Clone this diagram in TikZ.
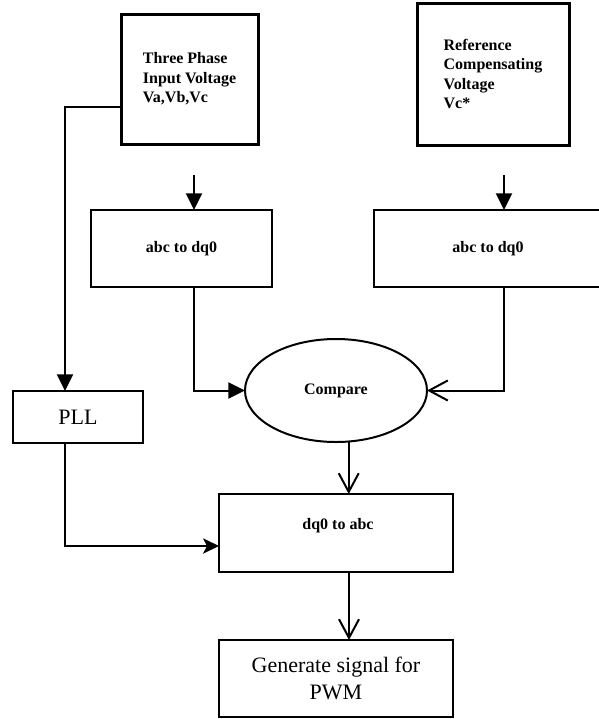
\documentclass[tikz,border=0pt]{standalone}
\usepackage{fontspec}
\setmainfont{Liberation Serif}
\usetikzlibrary{arrows.meta,shapes.geometric,calc}
\begin{document}
\begin{tikzpicture}[x=0.75pt,y=-0.75pt,
  every node/.style={inner sep=0pt, outer sep=0pt},
  line/.style={line width=1.5pt, black},
  topbox/.style={draw, line width=2.25pt, rectangle, align=left,
    font=\fontsize{12pt}{14.6pt}\selectfont\bfseries},
  box/.style={draw, line width=1.5pt, rectangle},
  boldtext/.style={font=\fontsize{12pt}{14.6pt}\selectfont\bfseries},
  plaintext/.style={font=\fontsize{16.5pt}{20pt}\selectfont, align=center},
  filledtip/.style={-{Triangle[length=12.5pt,width=12pt]}},
  stealthtip/.style={-{Stealth[length=12pt,width=11.5pt,inset=3pt]}},
  openv/.style={-{Straight Barb[length=14pt,width=15pt]}},
]
\useasboundingbox (0,0) rectangle (599,719);

% nodes
\node[topbox, minimum width=102.75pt, minimum height=97.5pt] (tp) at (189.5,79)
  {Three Phase\\Input Voltage\\Va,Vb,Vc};
\node[topbox, minimum width=114pt, minimum height=106.5pt] (ref) at (493,74)
  {Reference\\Compensating\\Voltage\\Vc*};
\node[box, boldtext, minimum width=135.75pt, minimum height=57.75pt] (abcL) at (181.5,248.5) {abc to dq0};
\node[box, boldtext, minimum width=171pt, minimum height=57.75pt] (abcR) at (488,248.5) {abc to dq0};
\node[draw, line width=1.5pt, ellipse, boldtext, minimum width=136.5pt, minimum height=77.25pt] (cmp) at (336,390.5) {Compare};
\node[box, plaintext, minimum width=97.5pt, minimum height=39pt] (pll) at (78,417) {PLL};
\node[box, minimum width=175.5pt, minimum height=58.5pt] (dq) at (336,533) {};
\node[boldtext] (dqt) at (338,526) {dq0 to abc};
\node[box, plaintext, minimum width=175.5pt, minimum height=57.75pt] (pwm) at (336,678.5)
  {Generate signal for\\PWM};

% free ends
\coordinate (in1) at (194,175);
\coordinate (in2) at (504,175);

% connectors
\draw[line, filledtip] ($(tp.west)+(0,28)$) -| ($(pll.north)+(-13,0)$);
\draw[line, filledtip] (in1) -- (in1 |- abcL.north);
\draw[line, filledtip] (in2) -- (in2 |- abcR.north);
\draw[line, filledtip] (in1 |- abcL.south) |- (cmp.west);
\draw[line, openv] (in2 |- abcR.south) |- (cmp.east);
\draw[line, openv] (cmp.-76) -- (cmp.-76 |- dq.north);
\draw[line, stealthtip] ($(pll.south)+(-13,0)$) |- ($(dq.west)+(0,13)$);
\draw[line, openv] ($(dq.south)+(13,0)$) -- ($(pwm.north)+(13,0)$);
\end{tikzpicture}
\end{document}
